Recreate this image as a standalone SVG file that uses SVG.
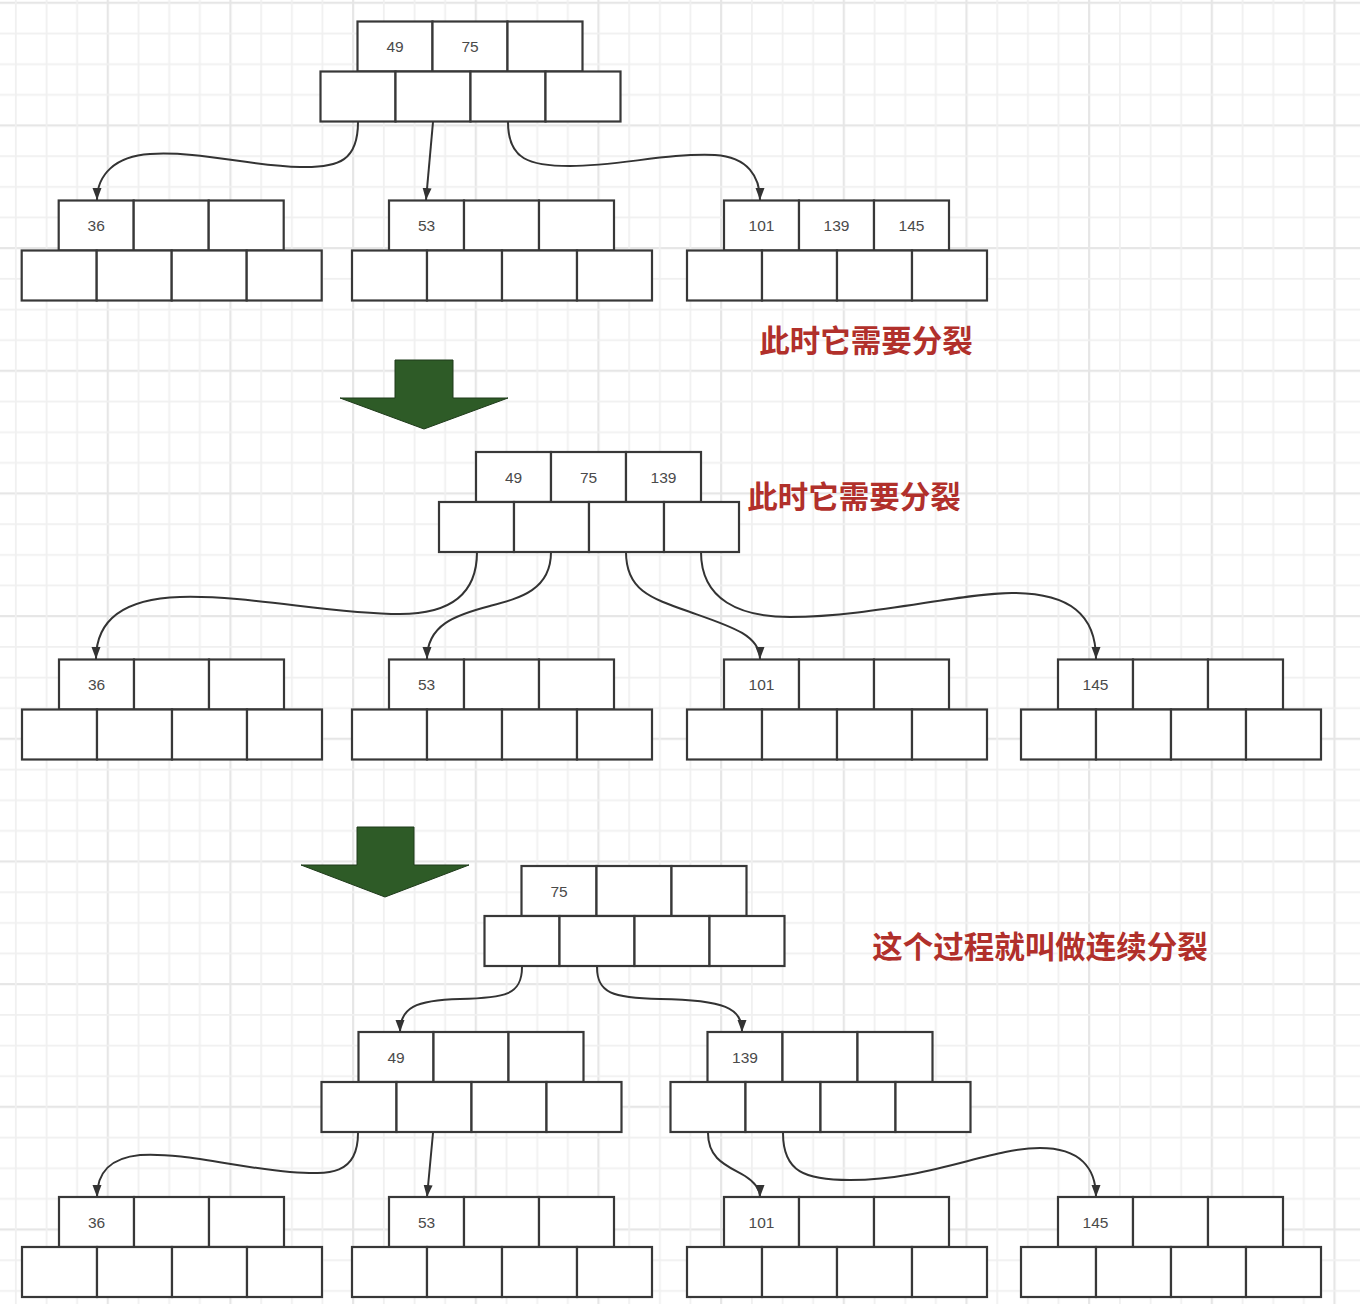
<svg xmlns="http://www.w3.org/2000/svg" xmlns:xlink="http://www.w3.org/1999/xlink" width="1360" height="1304" viewBox="0 0 1360 1304">
<style>
.c{fill:#fff;stroke:#383838;stroke-width:2.2}
.lbl{font-family:"Liberation Sans",Arial,sans-serif;font-size:15.5px;fill:#4a4a4a;text-anchor:middle;dominant-baseline:central}
.note{font-family:"Noto Sans CJK SC","Noto Sans",sans-serif;font-weight:700;font-size:30.5px;fill:#b1302b;text-anchor:middle;dominant-baseline:central}
.e{fill:none;stroke:#333;stroke-width:2;marker-end:url(#ah)}
.big{fill:#2e5b27;stroke:#1e3a1a;stroke-width:1}
</style>
<defs>
<pattern id="grid" patternUnits="userSpaceOnUse" x="106.7" y="1.7" width="122.67" height="122.67">
<rect x="0" y="0" width="2.2" height="122.67" fill="#e6e6e6"/>
<rect x="0" y="0" width="122.67" height="2.2" fill="#e6e6e6"/>
<rect x="30.9" y="0" width="1.8" height="122.67" fill="#f0f0f0"/>
<rect x="61.6" y="0" width="1.8" height="122.67" fill="#f0f0f0"/>
<rect x="92.2" y="0" width="1.8" height="122.67" fill="#f0f0f0"/>
<rect x="0" y="30.9" width="122.67" height="1.8" fill="#f0f0f0"/>
<rect x="0" y="61.6" width="122.67" height="1.8" fill="#f0f0f0"/>
<rect x="0" y="92.2" width="122.67" height="1.8" fill="#f0f0f0"/>
</pattern>
<marker id="ah" markerUnits="userSpaceOnUse" markerWidth="12" markerHeight="12" viewBox="0 0 12 12" refX="12" refY="6" orient="auto">
<path d="M0,1.5 L12,6 L0,10.5 Z" fill="#333"/>
</marker>
<g id="cells">
<rect class="c" x="37" y="0" width="75" height="50"/>
<rect class="c" x="112" y="0" width="75" height="50"/>
<rect class="c" x="187" y="0" width="75" height="50"/>
<rect class="c" x="0" y="50" width="75" height="50"/>
<rect class="c" x="75" y="50" width="75" height="50"/>
<rect class="c" x="150" y="50" width="75" height="50"/>
<rect class="c" x="225" y="50" width="75" height="50"/>
</g>
</defs>
<rect width="1360" height="1304" fill="#fff"/>
<rect width="1360" height="1304" fill="url(#grid)"/>

<g id="connectors">
<path class="e" d="M358,122 C358,160 340,168 300,167 C250,166 200,151 150,154 C115,156 97,175 97,200"/>
<path class="e" d="M433,122 L426,200"/>
<path class="e" d="M508,122 C508,160 530,166 570,166 C620,166 665,153 715,155 C748,157 760,177 760,200"/>

<path class="e" d="M477,552 C477,595 450,614 400,614 C330,614 250,595 180,597 C120,599 96,622 96,659"/>
<path class="e" d="M551,552 C551,590 520,598 490,606 C455,615 427,625 427,659"/>
<path class="e" d="M626,552 C626,590 650,598 690,612 C730,626 760,635 760,659"/>
<path class="e" d="M701,552 C701,600 740,617 790,617 C870,617 960,593 1012,593 C1070,593 1096,615 1096,659"/>

<path class="e" d="M522,967 C522,995 505,998 460,999 C415,1000 400,1008 400,1032"/>
<path class="e" d="M597,967 C597,993 612,998 660,999 C725,1000 742,1008 742,1032"/>

<path class="e" d="M358,1133 C358,1175 330,1175 290,1172 C240,1168 180,1152 140,1155 C110,1158 97,1172 97,1197"/>
<path class="e" d="M433,1133 L427,1197"/>
<path class="e" d="M708,1133 C708,1160 728,1166 745,1176 C756,1183 760,1190 760,1197"/>
<path class="e" d="M783,1133 C783,1172 805,1180 850,1180 C930,1180 990,1148 1040,1148 C1080,1148 1096,1168 1096,1197"/>
</g>

<g id="t1-root" transform="translate(320.5,21.5)"><use href="#cells"/><text class="lbl" x="74.5" y="25">49</text><text class="lbl" x="149.5" y="25">75</text></g>
<g id="t1-a" transform="translate(21.7,200.5)"><use href="#cells"/><text class="lbl" x="74.5" y="25">36</text></g>
<g id="t1-b" transform="translate(352,200.5)"><use href="#cells"/><text class="lbl" x="74.5" y="25">53</text></g>
<g id="t1-c" transform="translate(687,200.5)"><use href="#cells"/><text class="lbl" x="74.5" y="25">101</text><text class="lbl" x="149.5" y="25">139</text><text class="lbl" x="224.5" y="25">145</text></g>

<g id="note1"><text class="note" x="866" y="339">此时它需要分裂</text></g>
<g id="arrow1"><polygon class="big" points="395,360 453,360 453,398 508,398 424,429 340,398 395,398"/></g>

<g id="t2-root" transform="translate(439,452)"><use href="#cells"/><text class="lbl" x="74.5" y="25">49</text><text class="lbl" x="149.5" y="25">75</text><text class="lbl" x="224.5" y="25">139</text></g>
<g id="note2"><text class="note" x="854" y="495">此时它需要分裂</text></g>
<g id="t2-a" transform="translate(22,659.5)"><use href="#cells"/><text class="lbl" x="74.5" y="25">36</text></g>
<g id="t2-b" transform="translate(352,659.5)"><use href="#cells"/><text class="lbl" x="74.5" y="25">53</text></g>
<g id="t2-c" transform="translate(687,659.5)"><use href="#cells"/><text class="lbl" x="74.5" y="25">101</text></g>
<g id="t2-d" transform="translate(1021,659.5)"><use href="#cells"/><text class="lbl" x="74.5" y="25">145</text></g>

<g id="arrow2"><polygon class="big" points="357,827 414,827 414,865 469,865 385,897 301,865 357,865"/></g>

<g id="t3-root" transform="translate(484.5,866)"><use href="#cells"/><text class="lbl" x="74.5" y="25">75</text></g>
<g id="note3"><text class="note" x="1040" y="945">这个过程就叫做连续分裂</text></g>
<g id="t3-l" transform="translate(321.5,1032)"><use href="#cells"/><text class="lbl" x="74.5" y="25">49</text></g>
<g id="t3-r" transform="translate(670.5,1032)"><use href="#cells"/><text class="lbl" x="74.5" y="25">139</text></g>
<g id="t3-a" transform="translate(22,1197)"><use href="#cells"/><text class="lbl" x="74.5" y="25">36</text></g>
<g id="t3-b" transform="translate(352,1197)"><use href="#cells"/><text class="lbl" x="74.5" y="25">53</text></g>
<g id="t3-c" transform="translate(687,1197)"><use href="#cells"/><text class="lbl" x="74.5" y="25">101</text></g>
<g id="t3-d" transform="translate(1021,1197)"><use href="#cells"/><text class="lbl" x="74.5" y="25">145</text></g>
</svg>
